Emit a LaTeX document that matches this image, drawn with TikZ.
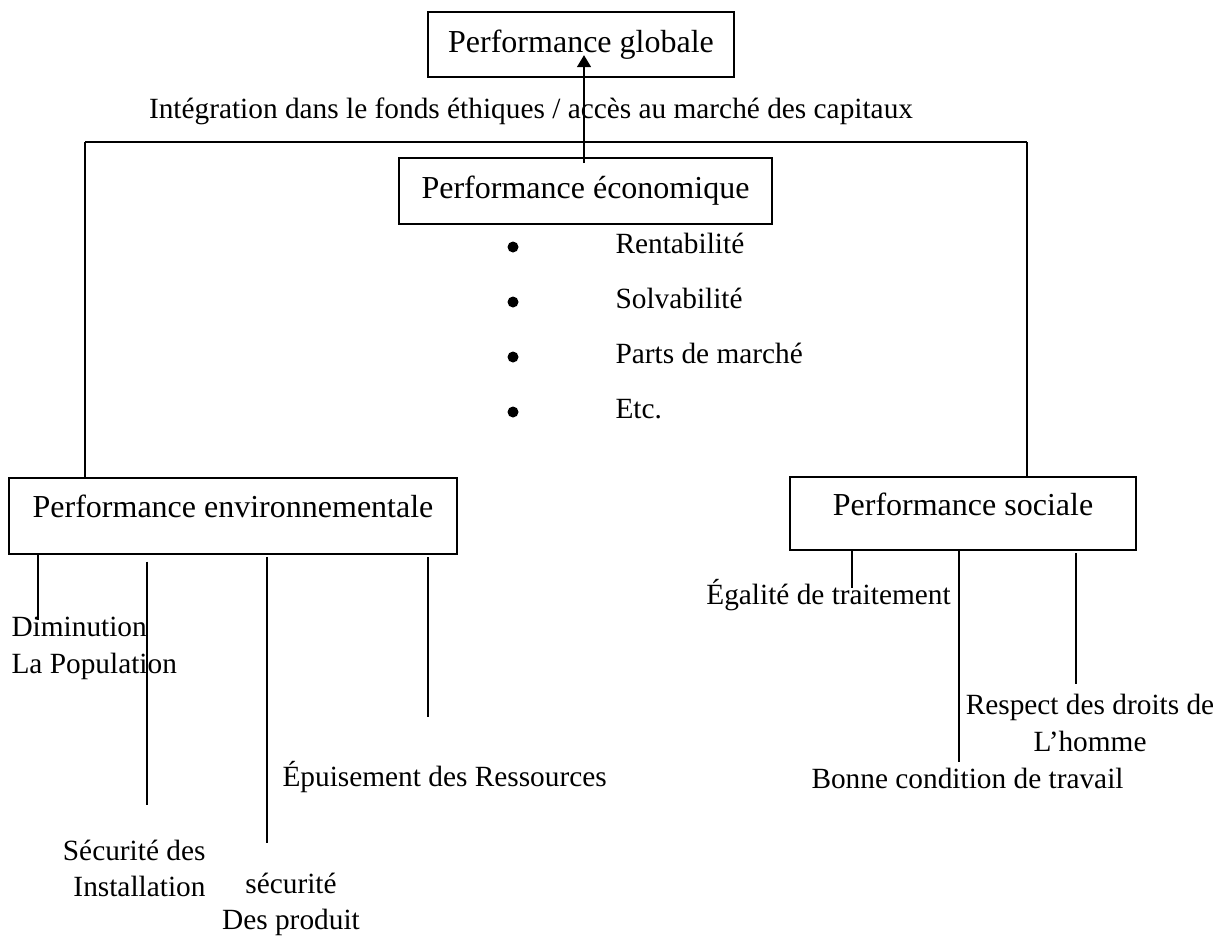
\documentclass[tikz,border=0pt]{standalone}
\usepackage{fontspec}
\setmainfont{Liberation Serif}
\usetikzlibrary{arrows.meta}
\newdimen\px \px=0.375pt

\tikzset{
  perfbox/.style={draw, line width=0.55pt, inner sep=0pt, font=\fontsize{12}{14}\selectfont},
  lowbox/.style={perfbox, text height=8.2pt, text depth=6.8pt},
  lbl/.style={inner sep=0pt, font=\fontsize{11}{13.7}\selectfont},
  item/.style={lbl, text height=7.6pt, text depth=2.4pt},
  dot/.style={circle, fill, inner sep=0pt, minimum size=11\px},
  branch/.style={line width=0.4pt},
  arr/.style={-{Triangle[width=5pt,length=4.5pt]}, line width=1.1pt}
}

\begin{document}
\begin{tikzpicture}[x=0.375pt, y=-0.375pt]
  \useasboundingbox (0,0) rectangle (1220,938);

  % Boxes
  \node[perfbox, minimum width=306\px, minimum height=65\px] (glob) at (581,44.5) {Performance globale};
  \node[perfbox, minimum width=373\px, minimum height=66\px] (eco)  at (585.5,191) {Performance économique};
  \node[lowbox, minimum width=448\px, minimum height=76\px]  (env)  at (233,516) {Performance environnementale};
  \node[lowbox, minimum width=346\px, minimum height=73\px]  (soc)  at (963,513.5) {Performance sociale};

  % Label over the bar
  \node[lbl] (integ) at (531,111) {Intégration dans le fonds éthiques / accès au marché des capitaux};

  % Economic items
  \foreach \name/\txt [count=\i] in {rent/Rentabilité, solv/Solvabilité, parts/Parts de marché, etc/Etc.} {
    \node[dot] (dot\name) at (513, {247+55*(\i-1)}) {};
    \node[item, anchor=west] (\name) at (615, {247+55*(\i-1)}) {\txt};
  }

  % Bar and drops
  \coordinate (barl) at (85,142);
  \coordinate (barr) at (1027,142);
  \draw[branch] (barl) -- (barr);
  \draw[branch] (barl) -- (barl |- env.north);
  \draw[branch] (barr) -- (barr |- soc.north);

  % Arrow
  \coordinate (arrfoot) at (584,163);
  \coordinate (arrtip)  at (584,55);
  \draw[arr] (arrfoot) -- (arrtip);

  % Environmental side
  \node[lbl, anchor=west, align=left]  (dimi)    at (11,648.5)  {Diminution\\La Population};
  \node[lbl, anchor=east, align=right] (secinst) at (206,868.5) {Sécurité des\\Installation};
  \node[lbl, align=center]             (secprod) at (291,904.5) {sécurité\\Des produit};
  \node[lbl, anchor=west]              (epuis)   at (282,777)   {Épuisement des Ressources};

  \coordinate (e1) at (38,620);
  \coordinate (e2) at (147,805);
  \coordinate (e3) at (267,843);
  \coordinate (e4) at (428,717);
  \draw[branch] (env.south -| e1) -- (e1);
  \draw[branch, shorten <=2.6pt] (env.south -| e2) -- (e2);
  \draw[branch, shorten <=0.8pt] (env.south -| e3) -- (e3);
  \draw[branch, shorten <=1pt] (env.south -| e4) -- (e4);

  % Social side
  \node[lbl]               (egal)  at (828.5,595) {Égalité de traitement};
  \node[lbl]               (bonne) at (967.5,778) {Bonne condition de travail};
  \node[lbl, align=center] (resp)  at (1090,723)  {Respect des droits de\\L’homme};

  \coordinate (s1) at (852,588);
  \coordinate (s2) at (959,762);
  \coordinate (s3) at (1076,684);
  \draw[branch] (soc.south -| s1) -- (s1);
  \draw[branch] (soc.south -| s2) -- (s2);
  \draw[branch, shorten <=1pt] (soc.south -| s3) -- (s3);
\end{tikzpicture}
\end{document}
